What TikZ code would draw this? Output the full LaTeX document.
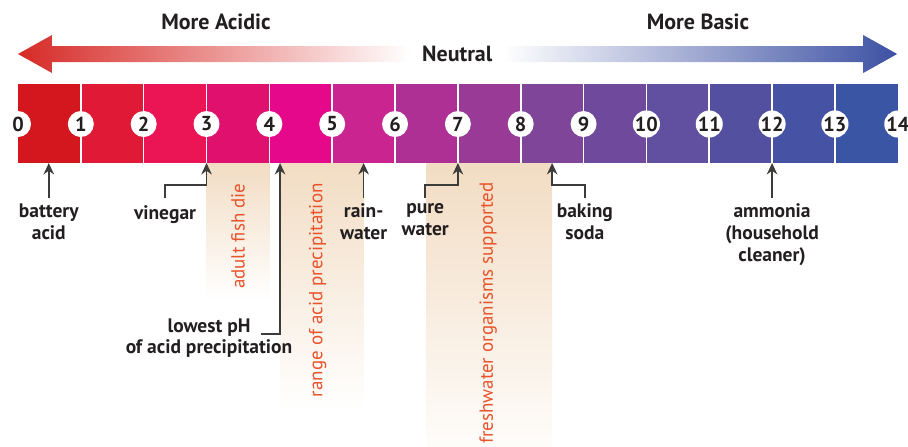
\documentclass[tikz,border=0pt]{standalone}
\usepackage{fontspec}
\setmainfont{PT Sans}
\usetikzlibrary{arrows.meta}

\definecolor{textdark}{HTML}{231F20}
\definecolor{linegray}{HTML}{3C3C3B}
\definecolor{acidred}{HTML}{D62A26}
\definecolor{basicblue}{HTML}{3D51A3}
\definecolor{bandpeach}{HTML}{F2DCC3}
\definecolor{bandtext}{HTML}{E8532B}

\tikzset{
  phnum/.style={circle, fill=white, inner sep=0pt, minimum size=0.52cm,
    text=textdark, font=\fontsize{11.5}{12}\selectfont\bfseries},
  heading/.style={text=textdark, font=\fontsize{12.5}{14}\selectfont\bfseries},
  label/.style={text=textdark, align=center, anchor=north, inner ysep=3pt,
    font=\fontsize{11.1}{12.5}\selectfont\bfseries, execute at begin node=\strut},
  lowlabel/.style={text=textdark, anchor=base, inner sep=0pt,
    font=\fontsize{11.1}{12.5}\selectfont\bfseries},
  bandlabel/.style={text=bandtext, rotate=90, anchor=east, inner sep=0pt,
    font=\fontsize{10.8}{12}\selectfont},
  pointer/.style={draw=linegray, line width=0.85pt, -{Stealth[length=6.5pt, width=6pt]}}
}

\begin{document}
\begin{tikzpicture}[x=1.2568cm, y=-0.02cm]
  \useasboundingbox (-0.2864,0) rectangle (14.163,446);

  % Shaded ranges below the scale
  \shade[top color=bandpeach, bottom color=white] (3,163) rectangle (4,300);
  \shade[top color=bandpeach, bottom color=white] (4.17,163) rectangle (5.5,410);
  \shade[top color=bandpeach, bottom color=bandpeach!8] (6.5,163) rectangle (8.5,446);

  % Coloured pH bar
  \foreach \hex [count=\i from 0] in {D4171E,E01A36,EB1556,E0106F,E5088A,C92490,AE3095,
      993A96,7E4599,6F4A9C,6150A0,5450A0,4652A3,3B55A5} {
    \definecolor{seg}{HTML}{\hex}
    \fill[seg] (\i,84) rectangle ({\i+1},163);
  }
  \foreach \i in {1,...,13}
    \draw[white, line width=0.9pt] (\i,84) -- (\i,163);
  \foreach \i in {0,...,14}
    \node[phnum] (n\i) at (\i,124) {\i};

  % Arrows on top
  \shade[left color=acidred, right color=white]
    (0,54) -- (0.541,35) -- (0.541,46) -- (6.24,46) -- (6.24,62) -- (0.541,62) -- (0.541,73) -- cycle;
  \shade[left color=white, right color=basicblue]
    (13.99,54) -- (13.45,35) -- (13.45,46) -- (7.72,46) -- (7.72,62) -- (13.45,62) -- (13.45,73) -- cycle;
  \node[heading] (acidic) at (3.15,22) {More Acidic};
  \node[heading] (basic) at (10.82,22) {More Basic};
  \node[heading] (neutral) at (6.99,54) {Neutral};

  % Points on the scale
  \coordinate (ph05) at (0.49,163);
  \coordinate (ph3) at (3,163);
  \coordinate (ph42) at (4.17,163);
  \coordinate (ph55) at (5.5,163);
  \coordinate (ph7) at (7,163);
  \coordinate (ph85) at (8.5,163);
  \coordinate (ph12) at (12,163);

  % Labels
  \node[label] (battery) at (0.49,198) {battery\\acid};
  \node[label] (vinegar) at (2.34,198) {vinegar};
  \node[label] (rain) at (5.5,198) {rain-\\water};
  \node[label] (pure) at (6.48,198) {pure\\water};
  \node[label] (baking) at (9.02,198) {baking\\soda};
  \node[label] (ammonia) at (12,198) {ammonia\\(household\\cleaner)};
  \node[lowlabel] (lowest) at (3.04,332) {lowest pH};
  \node[lowlabel] (lowestb) at (3.04,353) {of acid precipitation};

  \node[bandlabel] (fishdie) at (3.5,183) {adult fish die};
  \node[bandlabel] (range) at (4.77,183) {range of acid precipitation};
  \node[bandlabel] (fresh) at (7.48,182) {freshwater organisms supported};

  % Connectors
  \draw[pointer] (battery.north) -- (ph05);
  \draw[pointer] (vinegar.north) -- ++(0,-13) -| (ph3);
  \draw[pointer] ([xshift=6pt, yshift=-1pt]lowest.base east) -| (ph42);
  \draw[pointer] (rain.north) -- (ph55);
  \draw[pointer] (pure.north) -- ++(0,-13) -| (ph7);
  \draw[pointer] (baking.north) -- ++(0,-13) -| (ph85);
  \draw[pointer] (ammonia.north) -- (ph12);
\end{tikzpicture}
\end{document}
